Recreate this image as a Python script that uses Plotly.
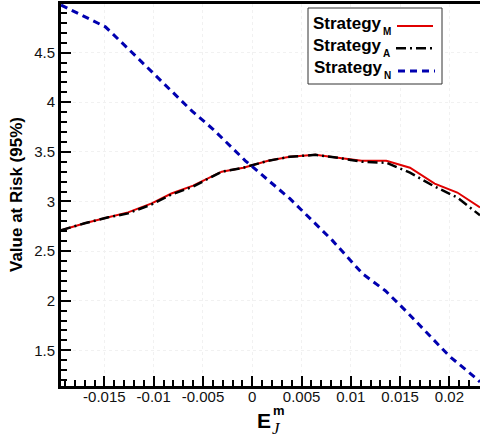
import plotly.graph_objects as go

# ---------------- data ----------------
x_MA = [-0.0194, -0.0170, -0.0146, -0.0126, -0.0102, -0.0082, -0.0060, -0.0031,
        -0.0009, 0.0016, 0.0038, 0.0064, 0.0087, 0.0111, 0.0136, 0.0160, 0.0185,
        0.0208, 0.0231]
y_M = [2.71, 2.78, 2.84, 2.89, 2.98, 3.08, 3.16, 3.30, 3.34, 3.41, 3.45, 3.47,
       3.44, 3.41, 3.41, 3.34, 3.18, 3.09, 2.94]
y_A = [2.71, 2.78, 2.84, 2.88, 2.97, 3.07, 3.15, 3.30, 3.34, 3.41, 3.45, 3.47,
       3.44, 3.40, 3.39, 3.29, 3.15, 3.04, 2.86]

x_N = [-0.0194, -0.0167, -0.0149, -0.0127, -0.0075, -0.0061, -0.0040, -0.0007,
       0.0038, 0.0081, 0.0112, 0.0135, 0.0157, 0.0178, 0.0200, 0.0228, 0.0231]
y_N = [4.98, 4.85, 4.76, 4.55, 4.05, 3.91, 3.73, 3.41, 3.03, 2.61, 2.27, 2.10,
       1.885, 1.67, 1.44, 1.21, 1.18]

x_tickvals = [-0.015, -0.01, -0.005, 0, 0.005, 0.01, 0.015, 0.02]
x_ticktext = ["-0.015", "-0.01", "-0.005", "0", "0.005", "0.01", "0.015", "0.02"]
y_tickvals = [1.5, 2, 2.5, 3, 3.5, 4, 4.5]
y_ticktext = ["1.5", "2", "2.5", "3", "3.5", "4", "4.5"]

series_names = ["M", "A", "N"]
series_colors = ["#e00000", "#000000", "#0000b0"]
series_dash = ["solid", "10px,4px,2px,4px", "7px,5px"]
series_width = [2, 2.5, 3]

FONT = "Liberation Sans, Arial, sans-serif"

fig = go.Figure()
for xs, ys, c, d, w in zip([x_MA, x_MA, x_N], [y_M, y_A, y_N],
                           series_colors, series_dash, series_width):
    fig.add_trace(go.Scatter(x=xs, y=ys, mode="lines",
                             line=dict(color=c, dash=d, width=w),
                             showlegend=False, hoverinfo="skip"))

# plot area in pixels: x 61..480, y 4..386
L, R, T, B = 61, 480, 4, 386
def px(xp):
    return (xp - L) / (R - L)
def py(yp):
    return (B - yp) / (B - T)

axis_common = dict(
    showline=True, linecolor="black", linewidth=3,
    ticks="inside", ticklen=10, tickwidth=2, tickcolor="black",
    showgrid=True, gridcolor="#f1f1f1", griddash="dot", gridwidth=1,
    zeroline=False, automargin=False,
    tickfont=dict(family=FONT, size=15, color="#111"),
)

fig.update_xaxes(range=[-0.0194, 0.0231], tickvals=x_tickvals, ticktext=x_ticktext,
                 mirror=True, ticklabelstandoff=-5,
                 minor=dict(dtick=0.001, tick0=0, ticks="inside", ticklen=6,
                            tickwidth=1.5, tickcolor="black", showgrid=False),
                 **axis_common)
fig.update_yaxes(range=[1.14, 4.99], tickvals=y_tickvals, ticktext=y_ticktext,
                 minor=dict(dtick=0.1, tick0=0, ticks="inside", ticklen=6,
                            tickwidth=1.5, tickcolor="black", showgrid=False),
                 **axis_common)

annotations = []
# y-axis title
annotations.append(dict(text="<b>Value at Risk (95%)</b>", textangle=-90,
                        xref="paper", yref="paper", x=px(16), y=0.5,
                        xanchor="center", yanchor="middle", showarrow=False,
                        font=dict(family=FONT, size=17, color="black")))
# x-axis title: E with stacked m (sup) and J (sub)
annotations.append(dict(text="<b>E</b>", xref="paper", yref="paper",
                        x=px(264), y=py(420), xanchor="center", yanchor="middle",
                        showarrow=False, font=dict(family=FONT, size=21, color="black")))
annotations.append(dict(text="<b>m</b>", xref="paper", yref="paper",
                        x=px(272), y=py(410.5), xanchor="left", yanchor="middle",
                        showarrow=False, borderpad=0,
                        font=dict(family=FONT, size=13, color="black")))
annotations.append(dict(text="<i>J</i>", xref="paper", yref="paper",
                        x=px(271), y=py(428.5), xanchor="left", yanchor="middle",
                        showarrow=False, borderpad=0,
                        font=dict(family="Liberation Serif, Times New Roman, serif",
                                  size=17, color="black")))

# legend (text left, sample right)
row_text_y = [22.5, 45, 67]
row_text_x = [311, 311, 312.3]
row_line_y = [26, 48.3, 71]
row_line_x = [(397, 433), (396, 433), (398, 435)]
shapes = [dict(type="rect", xref="paper", yref="paper",
               x0=px(308), x1=px(442), y0=py(84), y1=py(8),
               line=dict(color="#333", width=1), fillcolor="white", layer="above")]
for i, name in enumerate(series_names):
    annotations.append(dict(text="<b>Strategy</b>", xref="paper", yref="paper",
                            x=px(row_text_x[i]), y=py(row_text_y[i] + 1),
                            xanchor="left", yanchor="middle", showarrow=False,
                            font=dict(family=FONT, size=17, color="black")))
    annotations.append(dict(text="<b>" + name + "</b>", xref="paper", yref="paper",
                            x=px(row_text_x[i] + 70), y=py(row_text_y[i] + 9),
                            xanchor="left", yanchor="middle", showarrow=False,
                            font=dict(family=FONT, size=10, color="black")))
    x0, x1 = row_line_x[i]
    shapes.append(dict(type="line", xref="paper", yref="paper",
                       x0=px(x0), x1=px(x1), y0=py(row_line_y[i]), y1=py(row_line_y[i]),
                       line=dict(color=series_colors[i], dash=series_dash[i],
                                 width=series_width[i]), layer="above"))

fig.update_layout(width=480, height=440,
                  margin=dict(l=L, r=480 - R, t=T, b=440 - B),
                  plot_bgcolor="white", paper_bgcolor="white",
                  annotations=annotations, shapes=shapes)

fig.write_html("out.html", config={"displayModeBar": False},
               post_script="document.body.style.margin='0';")
